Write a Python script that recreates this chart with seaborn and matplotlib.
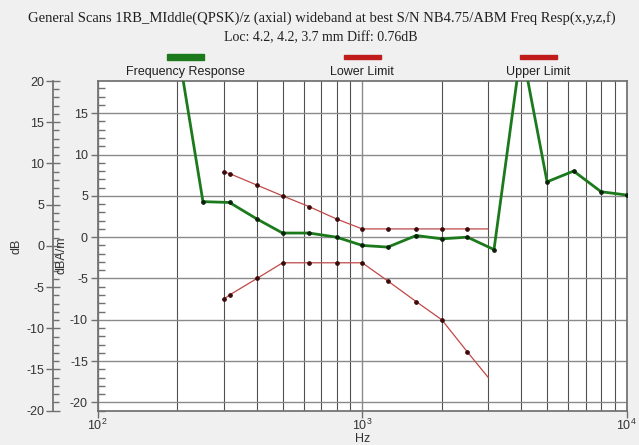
import numpy as np
import pandas as pd
import matplotlib
matplotlib.use("Agg")
import matplotlib.pyplot as plt
import matplotlib.ticker as mticker
from matplotlib.patches import Rectangle
import seaborn as sns

# Data (dBA/m scale)
resp_hz = [200, 250, 315, 400, 500, 630, 800, 1000, 1250, 1600, 2000, 2500, 3150,
           4000, 5000, 6300, 8000, 10000]
resp_db = [23.3, 4.3, 4.2, 2.2, 0.5, 0.5, 0.0, -1.0, -1.2, 0.2, -0.2, 0.0, -1.5,
           23.0, 6.7, 8.0, 5.5, 5.1]

limit_hz = [300, 315, 400, 500, 630, 800, 1000, 1250, 1600, 2000, 2500, 3000]
upper_db = [7.9, 7.7, 6.3, 5.0, 3.7, 2.2, 1.0, 1.0, 1.0, 1.0, 1.0, 1.0]
lower_db = [-7.5, -7.0, -5.0, -3.1, -3.1, -3.1, -3.1, -5.3, -7.8, -10.0, -13.9, -17.0]

title = "General Scans 1RB_MIddle(QPSK)/z (axial) wideband at best S/N NB4.75/ABM Freq Resp(x,y,z,f)"
subtitle = "Loc: 4.2, 4.2, 3.7 mm Diff: 0.76dB"
legend_names = ["Frequency Response", "Lower Limit", "Upper Limit"]

# Style
sns.set_theme(style="white")
plt.rcParams["font.family"] = ["Liberation Sans", "DejaVu Sans"]
plt.rcParams["mathtext.default"] = "regular"
plt.rcParams["axes.unicode_minus"] = False

GREEN = "#1c7a1c"
RED = "#c04848"
BAR_RED = "#c01c1c"
SPINE = "#707070"
BG = "#f0f0f0"
TXT = "#333333"

W, H = 639, 445
fig = plt.figure(figsize=(W / 100, H / 100), dpi=100, facecolor=BG)

x0, x1, ytop, ybot = 97.7, 626.7, 81.0, 410.7
rect = [x0 / W, 1 - ybot / H, (x1 - x0) / W, (ybot - ytop) / H]
ax = fig.add_axes(rect)
ax.set_facecolor("white")
ax.set_xscale("log")
ax.set_xlim(100, 10000)
ax.set_ylim(-21.0, 18.9)

resp = pd.DataFrame({"Hz": resp_hz, "dB": resp_db})
lim = pd.DataFrame({"Hz": limit_hz, "upper": upper_db, "lower": lower_db})

# grid
ax.set_yticks(np.arange(-20, 16, 5))
ax.yaxis.set_minor_locator(mticker.MultipleLocator(1))
ax.set_xticks([100, 1000, 10000])
ax.xaxis.set_minor_locator(mticker.LogLocator(base=10, subs=np.arange(2, 10)))
ax.xaxis.set_minor_formatter(mticker.NullFormatter())
ax.grid(True, which="major", axis="y", color="#8a8a8a", lw=1.0)
ax.grid(True, which="major", axis="x", color="#8a8a8a", lw=1.0)
ax.grid(True, which="minor", axis="x", color="#505050", lw=0.8)

mark_lim = list(range(len(limit_hz) - 1))
for col in ["upper", "lower"]:
    sns.lineplot(data=lim, x="Hz", y=col, ax=ax, color=RED, lw=0.9, marker="o",
                 markersize=2.6, markerfacecolor="#3a0a0a", markeredgecolor="#3a0a0a",
                 markevery=mark_lim, zorder=3)
sns.lineplot(data=resp, x="Hz", y="dB", ax=ax, color=GREEN, lw=2.0, marker="o",
             markersize=2.6, markerfacecolor="#0a200a", markeredgecolor="#0a200a",
             zorder=4)

for s in ax.spines.values():
    s.set_color(SPINE)
ax.tick_params(left=True, bottom=True, which="both")
ax.tick_params(axis="y", which="major", direction="out", length=5, width=1,
               color=SPINE, labelsize=9, pad=2, labelcolor=TXT)
ax.tick_params(axis="y", which="minor", direction="in", length=5, width=1, color=SPINE)
ax.tick_params(axis="x", which="major", direction="out", length=5, width=1,
               color=SPINE, labelsize=9, pad=0, labelcolor=TXT)
ax.tick_params(axis="x", which="minor", length=0)
ax.set_xlabel("Hz", fontsize=9, color=TXT)
ax.xaxis.set_label_coords(0.5, -0.069)
ax.set_ylabel("dBA/m", fontsize=9, color=TXT)
ax.yaxis.set_label_coords(-0.058, 0.47)

# outer dB axis
ax2 = fig.add_axes(rect, facecolor="none")
ax2.set_ylim(-20, 20)
ax2.set_yticks(np.arange(-20, 21, 5))
ax2.yaxis.set_minor_locator(mticker.MultipleLocator(1))
ax2.set_xticks([])
for k in ["top", "right", "bottom"]:
    ax2.spines[k].set_visible(False)
ax2.spines["left"].set_position(("outward", 45 * 0.72))
ax2.spines["left"].set_color(SPINE)
ax2.tick_params(left=True, which="both")
ax2.tick_params(axis="y", which="major", direction="inout", length=10, width=1,
                color=SPINE, labelsize=9, pad=1, labelcolor=TXT)
ax2.tick_params(axis="y", which="minor", direction="in", length=4, width=1, color=SPINE)
ax2.set_ylabel("dB", fontsize=9, color=TXT)
ax2.yaxis.set_label_coords(-0.143, 0.5)
ax2.set_zorder(ax.get_zorder() - 1)

# titles
fig.text(322 / W, 1 - 18 / H, title, ha="center", va="center", fontsize=10.5,
         family=["Liberation Serif", "DejaVu Serif"], color="#202020")
fig.text(321 / W, 1 - 38 / H, subtitle, ha="center", va="center", fontsize=10,
         family=["Liberation Serif", "DejaVu Serif"], color="#202020")

# legend
legend_cx = [185.5, 362, 538.5]
legend_col = [GREEN, BAR_RED, BAR_RED]
legend_h = [6, 4, 4]
for cx, name, col, bh in zip(legend_cx, legend_names, legend_col, legend_h):
    bw = 37
    fig.patches.append(Rectangle(((cx - bw / 2) / W, 1 - (57 + bh / 2) / H), bw / W, bh / H,
                                 transform=fig.transFigure, color=col, figure=fig))
    fig.text(cx / W, 1 - 72 / H, name, ha="center", va="center", fontsize=9, color="#202020")

fig.savefig("out.png", dpi=100, facecolor=BG)
